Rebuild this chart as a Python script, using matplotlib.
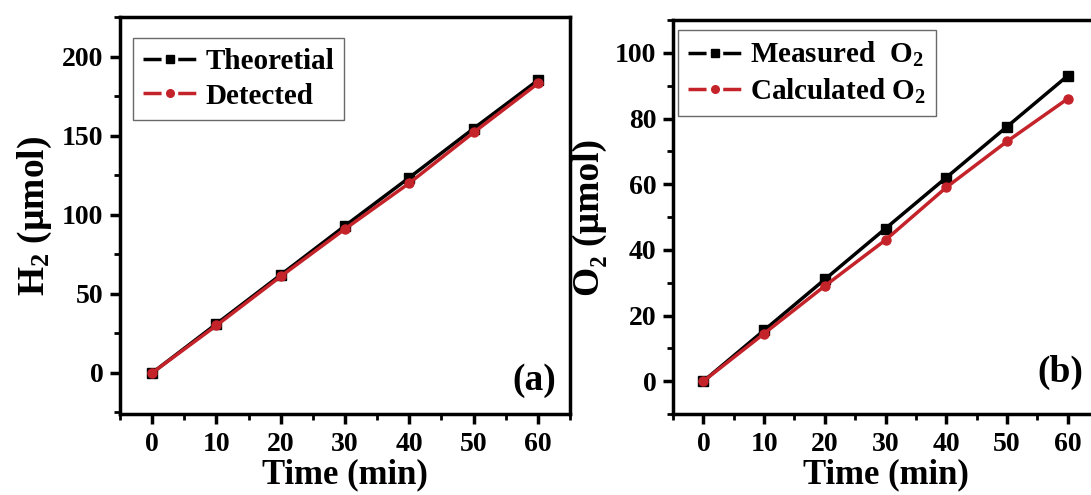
import matplotlib
matplotlib.use("Agg")
import matplotlib.pyplot as plt
from matplotlib.ticker import MultipleLocator
from matplotlib.lines import Line2D

plt.rcParams['font.family'] = ['Liberation Serif', 'DejaVu Serif']
plt.rcParams['font.weight'] = 'bold'
plt.rcParams['mathtext.default'] = 'regular'

time_min = [0, 10, 20, 30, 40, 50, 60]
h2_theoretical = [0, 31, 62, 93, 123.5, 154.5, 185]
h2_detected = [0, 30, 61, 91, 120, 152, 183]
o2_measured = [0, 15.5, 31, 46.5, 62, 77.5, 93]
o2_calculated = [0, 14.5, 29, 43, 59, 73, 86]

black = '#000000'
red = '#c4232a'

fig = plt.figure(figsize=(10.91, 4.95), dpi=100)
ax1 = fig.add_axes([0.110, 0.1636, 0.4125, 0.802])
ax2 = fig.add_axes([0.6169, 0.1636, 0.3895, 0.7960])

def style(ax, ymaj, ymin):
    for s in ax.spines.values():
        s.set_linewidth(2.5)
    ax.xaxis.set_major_locator(MultipleLocator(10))
    ax.xaxis.set_minor_locator(MultipleLocator(5))
    ax.yaxis.set_major_locator(MultipleLocator(ymaj))
    ax.yaxis.set_minor_locator(MultipleLocator(ymin))
    ax.tick_params(which='major', direction='out', length=7, width=2.5, labelsize=20, pad=5)
    ax.tick_params(axis='x', which='major', pad=6)
    ax.tick_params(which='minor', direction='out', length=4, width=2)
    for lab in ax.get_xticklabels() + ax.get_yticklabels():
        lab.set_fontweight('bold')
    ax.set_xlim(-5, 65)
    ax.set_xlabel('Time (min)', fontsize=25, fontweight='bold', labelpad=1)

def proxy(color, marker):
    return Line2D([], [], color=color, lw=2.5, marker=marker, ms=5.5,
                  dashes=(5.2, 4.8, 5.2, 4.8))

ax1.plot(time_min, h2_theoretical, color=black, lw=2.5, marker='s', ms=6.5)
ax1.plot(time_min, h2_detected, color=red, lw=2.5, marker='o', ms=6.5)
ax1.set_ylim(-26, 225)
style(ax1, 50, 25)
ax1.set_ylabel('H$_2$ (µmol)', fontsize=27, fontweight='bold', labelpad=6)
ax1.text(0.97, 0.04, '(a)', transform=ax1.transAxes, ha='right', va='bottom', fontsize=27, fontweight='bold')
leg1 = ax1.legend([proxy(black, 's'), proxy(red, 'o')], ['Theoretial', 'Detected'],
                  loc='upper left', bbox_to_anchor=(0.029, 0.947), fontsize=21, frameon=True,
                  fancybox=False, edgecolor='#444444', handlelength=1.82, handletextpad=0.3,
                  borderpad=0.35, labelspacing=0.25, borderaxespad=0.0, numpoints=1)
leg1.get_frame().set_linewidth(1.0)

ax2.plot(time_min, o2_measured, color=black, lw=2.5, marker='s', ms=6.5)
ax2.plot(time_min, o2_calculated, color=red, lw=2.5, marker='o', ms=6.5)
ax2.set_ylim(-10, 110)
style(ax2, 20, 10)
ax2.set_ylabel('O₂ (µmol)', fontsize=27, fontweight='bold', labelpad=6)
ax2.text(0.965, 0.06, '(b)', transform=ax2.transAxes, ha='right', va='bottom', fontsize=27, fontweight='bold')
leg2 = ax2.legend([proxy(black, 's'), proxy(red, 'o')], ['Measured  O$_2$', 'Calculated O$_2$'],
                  loc='upper left', bbox_to_anchor=(0.012, 0.975), fontsize=21, frameon=True,
                  fancybox=False, edgecolor='#444444', handlelength=1.82, handletextpad=0.3,
                  borderpad=0.35, labelspacing=0.25, borderaxespad=0.0, numpoints=1)
leg2.get_frame().set_linewidth(1.0)

fig.savefig('out.png', dpi=100)
